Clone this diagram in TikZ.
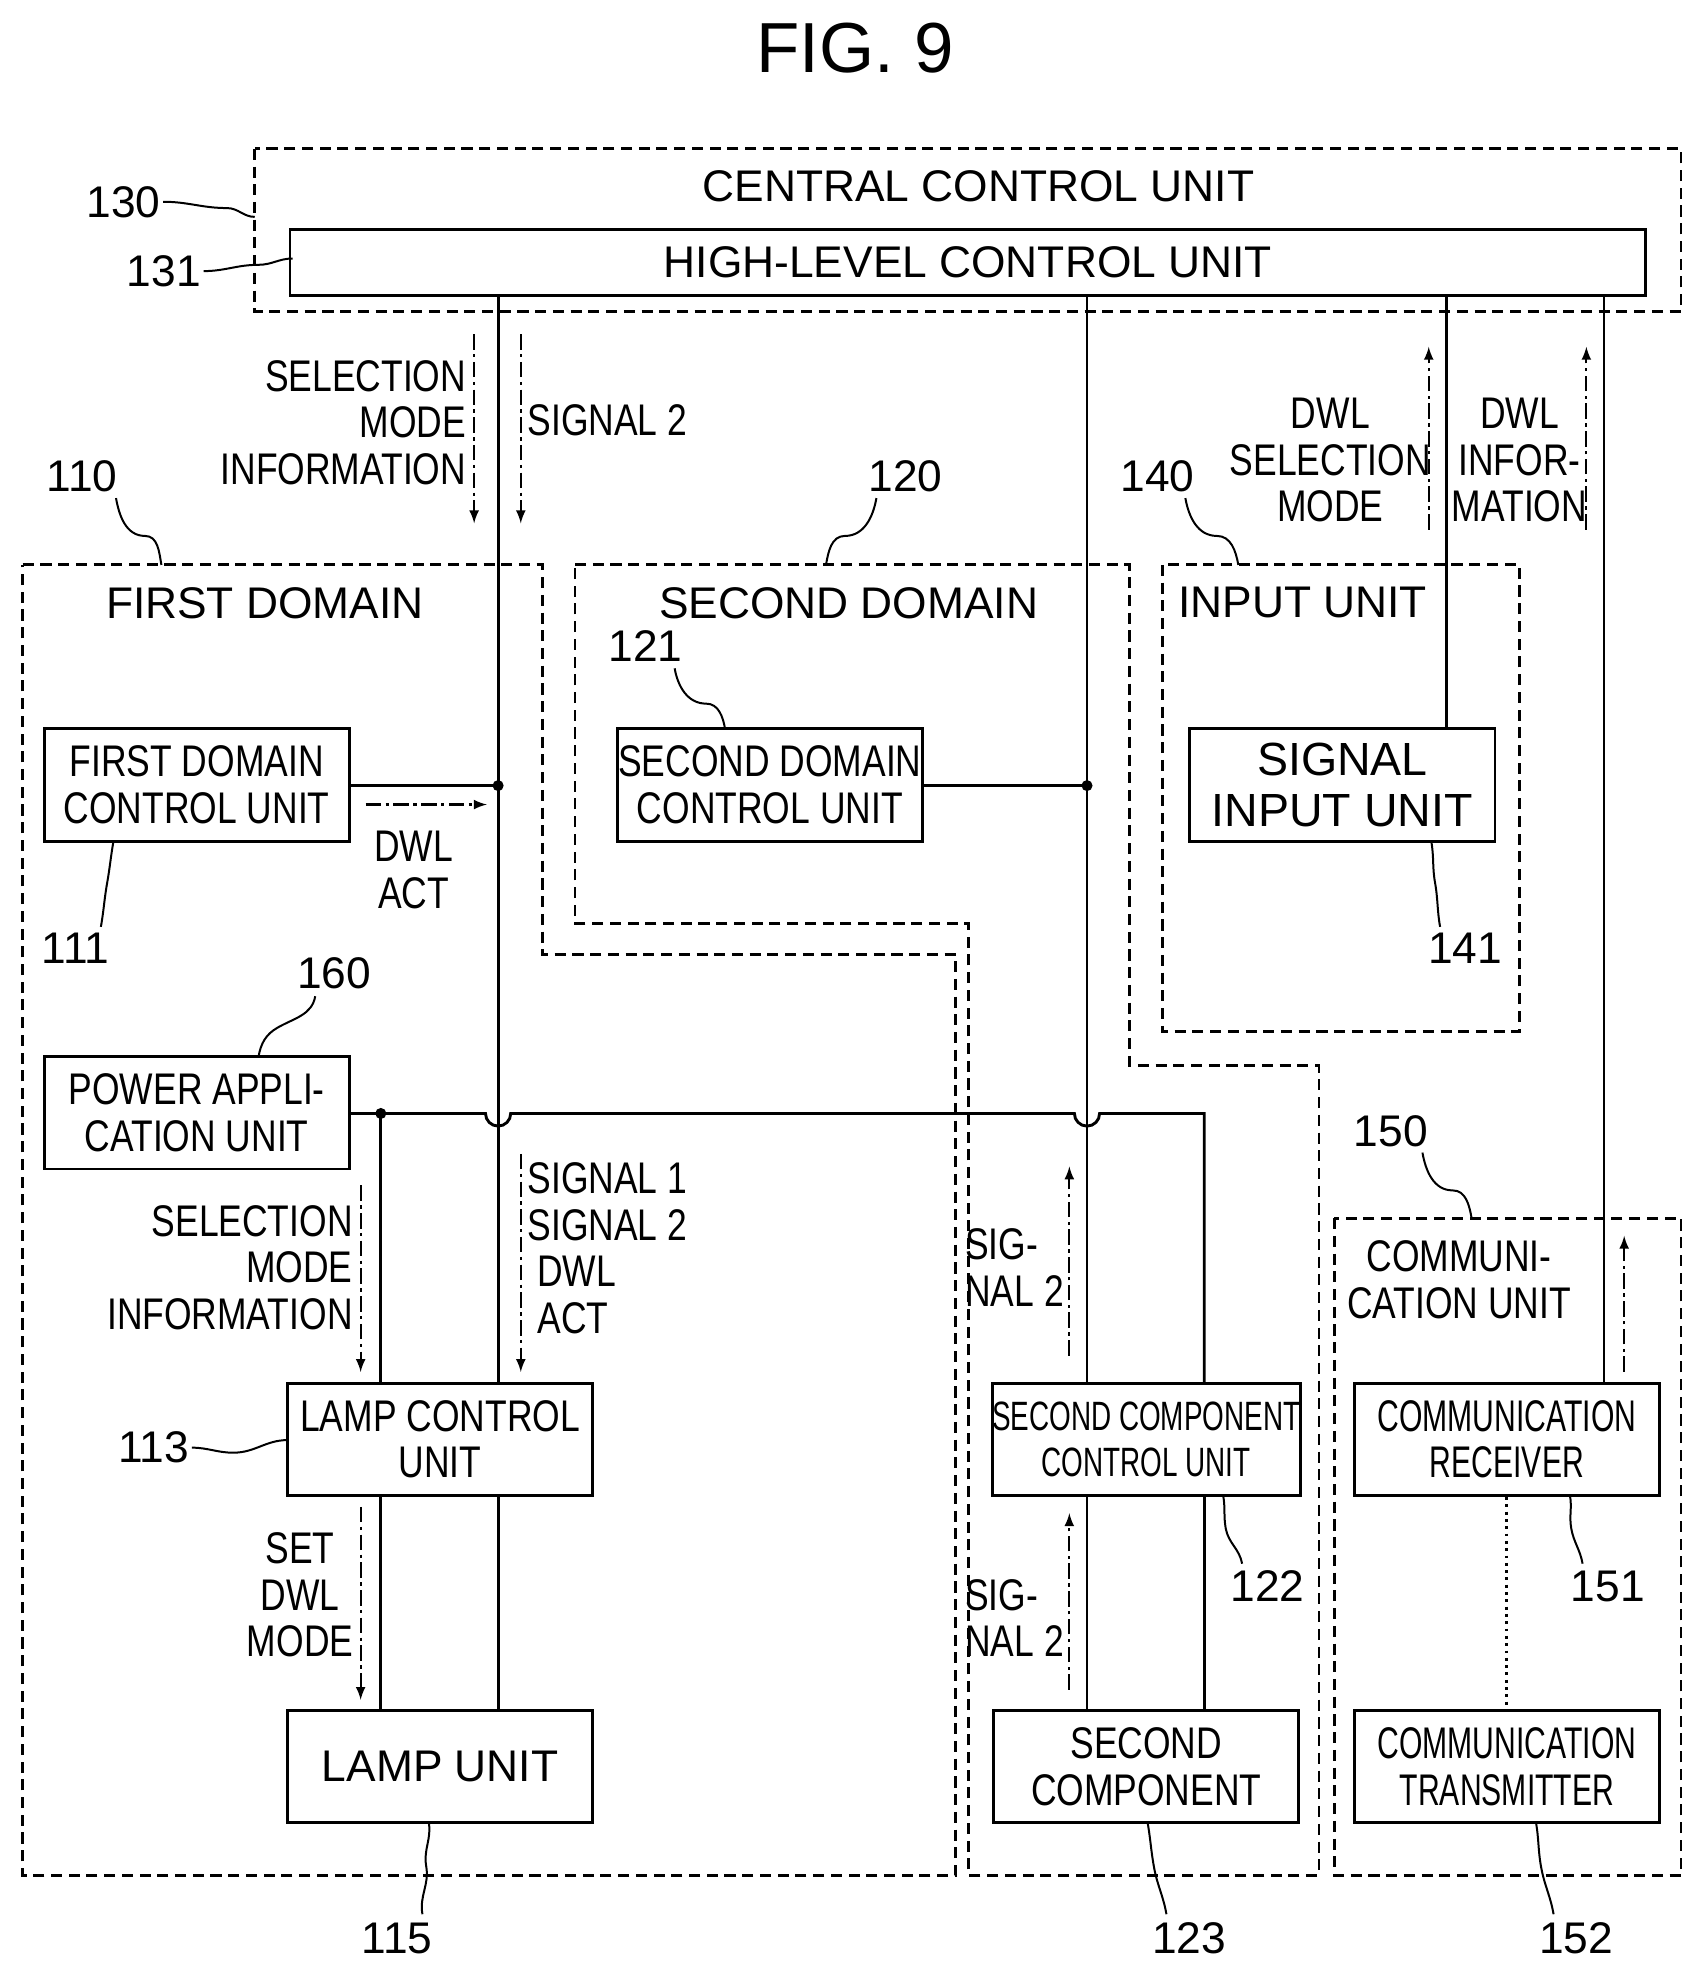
\documentclass[tikz,border=0pt]{standalone}
\usepackage{fontspec}
\setmainfont{Liberation Sans}
\newfontfamily\cond[FakeStretch=0.8]{Liberation Sans}
\newfontfamily\ccond[FakeStretch=0.68]{Liberation Sans}
\begin{document}
\begin{tikzpicture}[x=0.02cm,y=-0.02cm,
 box/.style={draw,line width=1.3pt},
 dom/.style={draw,line width=1.3pt,dash pattern=on 5pt off 3pt},
 ln/.style={line width=1.3pt},
 da/.style={line width=1pt,dash pattern=on 7pt off 2pt on 1.5pt off 2pt,-latex},
 lead/.style={line width=0.9pt},
 t/.style={font=\fontsize{20}{22}\selectfont},
 c/.style={font=\cond\fontsize{20}{21}\selectfont,align=center,inner sep=0pt},
 num/.style={font=\fontsize{20}{22}\selectfont,inner sep=1pt},
 dot/.style={circle,fill,inner sep=0pt,minimum size=5pt}]
\useasboundingbox (0,0) rectangle (1350,1567);
\node[font=\fontsize{32}{34}\selectfont] (title) at (678,38) {FIG. 9};
% domains
\draw[dom] (202,118) rectangle (1333,247);
\node[t] (ccu) at (776,148) {CENTRAL CONTROL UNIT};
\draw[dom] (18,448) -- (430,448) -- (430,757) -- (758,757) -- (758,1487) -- (18,1487) -- cycle;
\node[t] (fd) at (210,478) {FIRST DOMAIN};
\draw[dom] (456,448) -- (896,448) -- (896,845) -- (1046,845) -- (1046,1487) -- (768,1487) -- (768,732) -- (456,732) -- cycle;
\node[t] (sd) at (673,478) {SECOND DOMAIN};
\draw[dom] (922,448) rectangle (1205,818);
\node[t] (iu) at (1033,478) {INPUT UNIT};
\draw[dom] (1058,966) rectangle (1333,1487);
\node[c] (cu) at (1157,1015) {COMMUNI-\\CATION UNIT};
% boxes
\node[box,minimum width=1075*0.02cm,minimum height=52*0.02cm,t] (hl) at (767.5,208) {HIGH-LEVEL CONTROL UNIT};
\tikzset{bxs/.style={box,minimum width=242*0.02cm,minimum height=89*0.02cm,c}}
\newcommand\bx[4]{\node[bxs] (#1) at (#2,#3) {#4};}
\bx{fdc}{156}{622.5}{FIRST DOMAIN\\CONTROL UNIT}
\bx{sdc}{610.5}{622.5}{SECOND DOMAIN\\CONTROL UNIT}
\node[bxs,font=\fontsize{21}{23}\selectfont] (siu) at (1064.5,622.5) {SIGNAL\\INPUT UNIT};
\bx{pau}{156}{882.5}{POWER APPLI-\\CATION UNIT}
\bx{lcu}{349}{1141.5}{LAMP CONTROL\\UNIT}
\node[bxs,font=\fontsize{20}{22}\selectfont] (lu) at (349,1401) {LAMP UNIT};
\node[bxs,font=\ccond\fontsize{18.5}{21}\selectfont] (scc) at (909,1141.5) {SECOND COMPONENT\\CONTROL UNIT};
\bx{sc}{909}{1401}{SECOND\\COMPONENT}
\node[bxs,font=\ccond\fontsize{20}{21}\selectfont] (cr) at (1195,1141.5) {COMMUNICATION\\RECEIVER};
\node[bxs,font=\ccond\fontsize{20}{21}\selectfont] (ct) at (1195,1401) {COMMUNICATION\\TRANSMITTER};
% coordinates
\coordinate (j1) at (395,623); \coordinate (j2) at (862,623);
\node[dot] at (j1) {}; \node[dot] at (j2) {};
\coordinate (p1) at (302,883); \node[dot] at (p1) {};
% main lines
\draw[ln] (hl.south -| j1) -- (lcu.north -| j1);
\draw[ln] (hl.south -| j2) -- (scc.north -| j2);
\draw[ln] (hl.south -| 1147,0) -- (siu.north -| 1147,0);
\draw[ln] (hl.south -| 1272,0) -- (cr.north -| 1272,0);
\draw[ln] (fdc.east |- j1) -- (j1);
\draw[ln] (sdc.east |- j2) -- (j2);
\draw[ln] (pau.east |- p1) -- (385,883) arc (180:0:10) -- (852,883) arc (180:0:10) -- (955,883) -- (955,1097);
\draw[ln] (p1) -- (lcu.north -| p1);
\draw[ln] (lcu.south -| p1) -- (lu.north -| p1);
\draw[ln] (lcu.south -| j1) -- (lu.north -| j1);
\draw[ln] (scc.south -| j2) -- (sc.north -| j2);
\draw[ln] (scc.south -| 955,0) -- (sc.north -| 955,0);
\draw[line width=1.3pt,dotted] (cr.south) -- (ct.north);
% signal arrows
\draw[da] (376,265) -- (376,415);
\draw[da] (413,265) -- (413,415);
\node[c,align=right,anchor=east] (l1) at (370,335) {SELECTION\\MODE\\INFORMATION};
\node[c,anchor=west] (l2) at (418,333) {SIGNAL 2};
\draw[da] (1133,420) -- (1133,275);
\draw[da] (1258,420) -- (1258,275);
\node[c] (l3) at (1055,365) {DWL\\SELECTION\\MODE};
\node[c] (l4) at (1205,365) {DWL\\INFOR-\\MATION};
\draw[da] (290,638) -- (386,638);
\node[c] (l5) at (328,690) {DWL\\ACT};
\draw[da] (286,940) -- (286,1088);
\node[c,align=right,anchor=east] (l6) at (280,1005) {SELECTION\\MODE\\INFORMATION};
\draw[da] (413,915) -- (413,1088);
\node[c,align=left,anchor=west] (l7) at (418,990) {SIGNAL 1\\SIGNAL 2\\\ DWL\\\ ACT};
\draw[da] (286,1195) -- (286,1348);
\node[c] (l8) at (238,1265) {SET\\DWL\\MODE};
\draw[da] (848,1075) -- (848,925);
\node[c,anchor=east,align=left] (l9) at (844,1005) {SIG-\\NAL 2};
\draw[da] (848,1340) -- (848,1200);
\node[c,anchor=east,align=left] (l10) at (844,1283) {SIG-\\NAL 2};
\draw[da] (1288,1088) -- (1288,980);
% reference numerals
\node[num] (n130) at (98,160) {130};
\draw[lead] (n130.east) to[out=0,in=180] (180,165) to[out=0,in=180] (202,172);
\node[num] (n131) at (130,215) {131};
\draw[lead] (n131.east) to[out=0,in=180] (205,210) to[out=0,in=180] (232,205);
\node[num] (n110) at (65,378) {110};
\draw[lead] (92,395) to[out=-80,in=180] (115,425) to[out=0,in=100] (128,448);
\node[num] (n120) at (718,378) {120};
\draw[lead] (695,395) to[out=-100,in=0] (670,425) to[out=180,in=80] (655,448);
\node[num] (n140) at (918,378) {140};
\draw[lead] (940,395) to[out=-80,in=180] (965,425) to[out=0,in=100] (982,448);
\node[num] (n150) at (1103,897) {150};
\draw[lead] (1128,914) to[out=-80,in=180] (1152,944) to[out=0,in=100] (1167,966);
\node[num] (n121) at (512,512) {121};
\draw[lead] (535,530) to[out=-80,in=180] (560,558) to[out=0,in=100] (575,578);
\node[num] (n111) at (60,752) {111};
\draw[lead] (80,735) to[out=80,in=-100] (85,700) to[out=80,in=-100] (90,667);
\node[num] (n141) at (1162,752) {141};
\draw[lead] (1142,735) to[out=100,in=-80] (1138,700) to[out=100,in=-80] (1135,667);
\node[num] (n160) at (265,772) {160};
\draw[lead] (250,790) to[out=-100,in=30] (220,815) to[out=-150,in=80] (205,838);
\node[num] (n113) at (122,1148) {113};
\draw[lead] (n113.east) to[out=0,in=180] (185,1152) to[out=0,in=180] (228,1142);
\node[num] (n115) at (315,1537) {115};
\draw[lead] (335,1518) to[out=100,in=-80] (338,1480) to[out=100,in=-80] (340,1445);
\node[num] (n123) at (943,1537) {123};
\draw[lead] (925,1518) to[out=100,in=-80] (915,1480) to[out=100,in=-80] (910,1445);
\node[num] (n152) at (1250,1537) {152};
\draw[lead] (1232,1518) to[out=100,in=-80] (1222,1480) to[out=100,in=-80] (1218,1445);
\node[num] (n122) at (1005,1258) {122};
\draw[lead] (985,1240) to[out=100,in=-80] (972,1212) to[out=100,in=-80] (970,1186);
\node[num] (n151) at (1275,1258) {151};
\draw[lead] (1255,1240) to[out=100,in=-80] (1246,1212) to[out=100,in=-80] (1245,1186);
\end{tikzpicture}
\end{document}
